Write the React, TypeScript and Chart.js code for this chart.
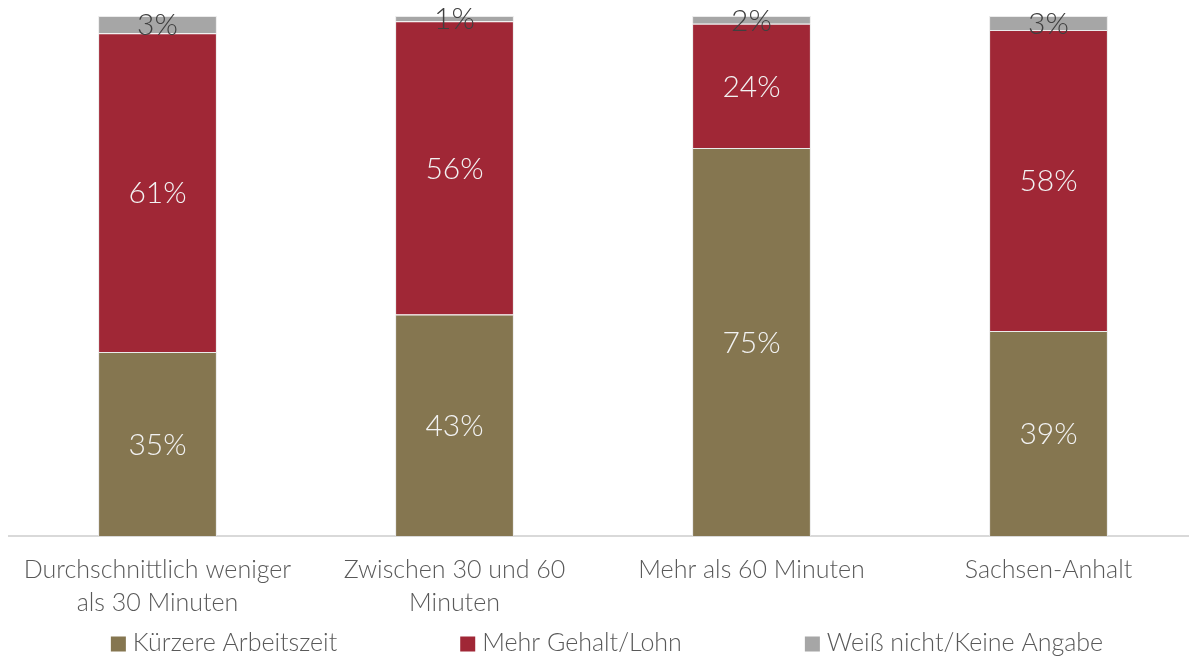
import React, { useEffect, useRef } from "react";
import { Chart, registerables } from "chart.js";

Chart.register(...registerables);

const categories: string[][] = [
  ["Durchschnittlich weniger", "als 30 Minuten"],
  ["Zwischen 30 und 60", "Minuten"],
  ["Mehr als 60 Minuten"],
  ["Sachsen-Anhalt"],
];
const seriesNames = ["Kürzere Arbeitszeit", "Mehr Gehalt/Lohn", "Weiß nicht/Keine Angabe"];
const kuerzere = [35.4, 42.6, 74.6, 39.4];
const mehrGehalt = [61.3, 56.4, 23.9, 57.9];
const weissNicht = [3.3, 1.0, 1.5, 2.7];
const colors = ["#857650", "#A02736", "#A6A6A6"];
const labelColors = ["#F2F2F2", "#F2F2F2", "#404040"];

const FONT = "Lato, 'Open Sans', sans-serif";

const labelPlugin = {
  id: "segLabels",
  afterDatasetsDraw(chart: any) {
    const ctx = chart.ctx;
    ctx.save();
    ctx.textAlign = "center";
    ctx.textBaseline = "middle";
    ctx.font = `300 30px ${FONT}`;
    chart.data.datasets.forEach((ds: any, i: number) => {
      const meta = chart.getDatasetMeta(i);
      meta.data.forEach((el: any, j: number) => {
        const v = ds.data[j] as number;
        const p = el.getProps(["x", "y", "base"], true);
        ctx.fillStyle = labelColors[i];
        ctx.fillText(`${Math.round(v)}%`, p.x, (p.y + p.base) / 2 + 1);
      });
    });
    ctx.restore();
  },
};

const legendPlugin = {
  id: "customLegend",
  afterDraw(chart: any) {
    const ctx = chart.ctx;
    const box = 15;
    const textGap = 7;
    const itemGap = 123;
    ctx.save();
    ctx.font = `300 25px ${FONT}`;
    ctx.textBaseline = "middle";
    ctx.textAlign = "left";
    const items = chart.data.datasets.map((ds: any) => ({
      label: ds.label as string,
      color: ds.backgroundColor as string,
      w: box + textGap + ctx.measureText(ds.label).width,
    }));
    const total = items.reduce((s: number, it: any) => s + it.w, 0) + itemGap * (items.length - 1);
    let x = 607 - total / 2;
    const y = 643;
    items.forEach((it: any) => {
      ctx.fillStyle = it.color;
      ctx.fillRect(x, y - box / 2 + 1, box, box);
      ctx.fillStyle = "#595959";
      ctx.fillText(it.label, x + box + textGap, y);
      x += it.w + itemGap;
    });
    ctx.restore();
  },
};

export default function App() {
  const ref = useRef<HTMLCanvasElement | null>(null);
  useEffect(() => {
    document.body.style.overflow = "hidden";
    const chart = new Chart(ref.current as HTMLCanvasElement, {
      type: "bar",
      data: {
        labels: categories,
        datasets: [kuerzere, mehrGehalt, weissNicht].map((d, i) => ({
          label: seriesNames[i],
          data: d,
          backgroundColor: colors[i],
          borderColor: "rgba(230,230,230,0.8)",
          borderWidth: 1,
          barPercentage: 0.4,
          categoryPercentage: 1,
        })),
      },
      options: {
        animation: false,
        responsive: false,
        maintainAspectRatio: false,
        layout: { padding: { top: 16, left: 9, right: 0, bottom: 28 } },
        scales: {
          x: {
            stacked: true,
            grid: { display: false },
            border: { display: true, color: "#D9D9D9", width: 2 },
            ticks: {
              color: "#595959",
              font: { family: FONT, size: 25, lineHeight: 1.32, weight: "300" },
              padding: 9,
              maxRotation: 0,
              autoSkip: false,
            },
          },
          y: { stacked: true, min: 0, max: 100, display: false },
        },
        plugins: {
          legend: { display: false },
          tooltip: { enabled: false },
        },
      },
      plugins: [labelPlugin, legendPlugin],
    });
    return () => chart.destroy();
  }, []);
  return (
    <div style={{ position: "absolute", left: 0, top: 0, width: 1197, height: 656 }}>
      <canvas ref={ref} width={1197} height={656} />
    </div>
  );
}
